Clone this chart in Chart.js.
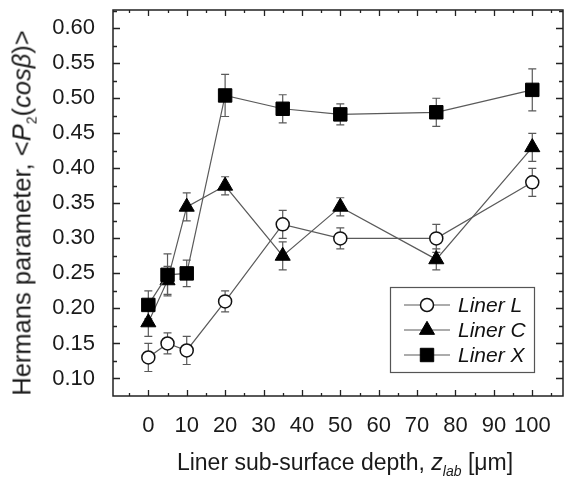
<!DOCTYPE html>
<html lang="en">
<head>
    <meta charset="UTF-8">
    <title>Hermans parameter vs depth</title>
    <script src="https://cdn.jsdelivr.net/npm/chart.js"></script>
    <style>
        body { margin: 0; background: #fff; }
        #wrap { position: relative; width: 564px; height: 478px; }
        #chart { position: absolute; left: 0; top: 0; }
        .title {
            position: absolute;
            font-family: "Liberation Sans", Arial, sans-serif;
            color: #1a1a1a;
            white-space: nowrap;
        }
        #xTitle { font-size: 23px; left: 345px; top: 462px; transform: translate(-50%, -50%); }
        #yTitle { font-size: 25.5px; left: 22px; top: 213px; transform: translate(-50%, -50%) rotate(-90deg); }
        sub { font-size: 14px; vertical-align: -6px; line-height: 0; }
    </style>
</head>
<body>
<div id="wrap">
    <canvas id="chart" width="564" height="478"></canvas>
    <div id="xTitle" class="title">Liner sub-surface depth, <i>z</i><sub><i>lab</i></sub> [&mu;m]</div>
    <div id="yTitle" class="title">Hermans parameter, &lt;<i>P</i><sub>2</sub>(<i>cos&beta;</i>)&gt;</div>
</div>
<script>
    // depth positions (um)
    var depths = [0, 5, 10, 20, 35, 50, 75, 100];

    var linerL = [0.13, 0.15, 0.14, 0.21, 0.32, 0.30, 0.30, 0.38];
    var linerLErr = [0.02, 0.015, 0.02, 0.015, 0.02, 0.015, 0.02, 0.02];

    var linerC = [0.18, 0.24, 0.345, 0.375, 0.275, 0.345, 0.27, 0.43];
    var linerCErr = [0.02, 0.02, 0.02, 0.013, 0.02, 0.013, 0.015, 0.02];

    var linerX = [0.205, 0.248, 0.25, 0.504, 0.485, 0.477, 0.48, 0.512];
    var linerXErr = [0.02, 0.03, 0.019, 0.03, 0.02, 0.015, 0.02, 0.03];

    var xTicks = [0, 10, 20, 30, 40, 50, 60, 70, 80, 90, 100];
    var yTicks = [0.10, 0.15, 0.20, 0.25, 0.30, 0.35, 0.40, 0.45, 0.50, 0.55, 0.60];

    var font = '"Liberation Sans", Arial, sans-serif';
    var lineGray = "#5a5a5a";

    function points(vals) {
        return depths.map((d, i) => ({x: d, y: vals[i]}));
    }

    function noPad(s) {
        s.paddingTop = 0; s.paddingBottom = 0;
        s.paddingLeft = 0; s.paddingRight = 0;
    }

    // error bars behind the markers
    var errorBars = {
        id: "errorBars",
        beforeDatasetsDraw(chart) {
            var ctx = chart.ctx, xs = chart.scales.x, ys = chart.scales.y;
            ctx.save();
            ctx.strokeStyle = lineGray;
            ctx.lineWidth = 1.2;
            chart.data.datasets.forEach(ds => {
                ds.data.forEach((p, j) => {
                    var e = ds.errors[j];
                    var px = xs.getPixelForValue(p.x);
                    var top = ys.getPixelForValue(p.y + e);
                    var bot = ys.getPixelForValue(p.y - e);
                    ctx.beginPath();
                    ctx.moveTo(px, top); ctx.lineTo(px, bot);
                    ctx.moveTo(px - 4, top); ctx.lineTo(px + 4, top);
                    ctx.moveTo(px - 4, bot); ctx.lineTo(px + 4, bot);
                    ctx.stroke();
                });
            });
            ctx.restore();
        }
    };

    // box frame with inward ticks on all four sides
    var frame = {
        id: "frame",
        afterDatasetsDraw(chart) {
            var ctx = chart.ctx, a = chart.chartArea;
            var xs = chart.scales.x, ys = chart.scales.y;
            ctx.save();
            ctx.strokeStyle = "#222";
            ctx.lineWidth = 1.5;
            ctx.strokeRect(a.left, a.top, a.right - a.left, a.bottom - a.top);
            ctx.lineWidth = 1.3;
            ctx.beginPath();
            for (var v = -5; v <= 105; v += 5) {
                var px = Math.round(xs.getPixelForValue(v)) + 0.5;
                if (px <= a.left || px >= a.right) continue;
                var len = (v % 10 === 0) ? 6 : 3;
                ctx.moveTo(px, a.bottom); ctx.lineTo(px, a.bottom - len);
                ctx.moveTo(px, a.top); ctx.lineTo(px, a.top + len);
            }
            for (var k = 3; k <= 25; k++) {
                var val = k * 0.025;
                var py = Math.round(ys.getPixelForValue(val)) + 0.5;
                if (py <= a.top || py >= a.bottom) continue;
                var l2 = (k % 2 === 0) ? 7 : 4;
                ctx.moveTo(a.left, py); ctx.lineTo(a.left + l2, py);
                ctx.moveTo(a.right, py); ctx.lineTo(a.right - l2, py);
            }
            ctx.stroke();
            ctx.restore();
        }
    };

    // legend box inside the plot
    var boxLegend = {
        id: "boxLegend",
        afterDraw(chart) {
            var ctx = chart.ctx;
            ctx.save();
            ctx.fillStyle = "#fff";
            ctx.fillRect(390, 287, 144, 85);
            ctx.strokeStyle = "#555";
            ctx.lineWidth = 1.2;
            ctx.strokeRect(390.5, 287.5, 144, 85);
            chart.data.datasets.forEach((ds, row) => {
                var y = 305 + row * 25;
                ctx.strokeStyle = lineGray;
                ctx.lineWidth = 1.2;
                ctx.beginPath();
                ctx.moveTo(404, y); ctx.lineTo(450, y);
                ctx.stroke();
                ctx.fillStyle = ds.pointBackgroundColor;
                ctx.strokeStyle = ds.pointBorderColor;
                ctx.lineWidth = ds.pointBorderWidth;
                Chart.helpers.drawPoint(ctx, {
                    pointStyle: ds.pointStyle,
                    radius: ds.pointRadius,
                    rotation: 0,
                    borderWidth: ds.pointBorderWidth
                }, 427, y);
                ctx.fillStyle = "#111";
                ctx.font = "italic 21px " + font;
                ctx.textBaseline = "middle";
                ctx.fillText(ds.label, 458, y + 1);
            });
            ctx.restore();
        }
    };

    var chart = new Chart(document.getElementById("chart"), {
        type: "line",
        data: {
            datasets: [
                {
                    label: "Liner L",
                    data: points(linerL),
                    errors: linerLErr,
                    borderColor: lineGray,
                    borderWidth: 1.2,
                    pointStyle: "circle",
                    pointRadius: 6.5,
                    pointBackgroundColor: "#fff",
                    pointBorderColor: "#111",
                    pointBorderWidth: 1.5,
                    order: 2
                },
                {
                    label: "Liner C",
                    data: points(linerC),
                    errors: linerCErr,
                    borderColor: lineGray,
                    borderWidth: 1.2,
                    pointStyle: "triangle",
                    pointRadius: 8.7,
                    pointBackgroundColor: "#000",
                    pointBorderColor: "#000",
                    pointBorderWidth: 1,
                    order: 1
                },
                {
                    label: "Liner X",
                    data: points(linerX),
                    errors: linerXErr,
                    borderColor: lineGray,
                    borderWidth: 1.2,
                    pointStyle: "rect",
                    pointRadius: 9.5,
                    pointBackgroundColor: "#000",
                    pointBorderColor: "#000",
                    pointBorderWidth: 1,
                    order: 0
                }
            ]
        },
        options: {
            responsive: false,
            animation: false,
            layout: {autoPadding: false, padding: {top: 10, right: 1, left: 0, bottom: 0}},
            plugins: {legend: {display: false}, tooltip: {enabled: false}},
            scales: {
                x: {
                    type: "linear",
                    min: -9.2,
                    max: 108,
                    afterBuildTicks: s => { s.ticks = xTicks.map(v => ({value: v})); },
                    afterFit: s => { s.height = 82; noPad(s); },
                    grid: {display: false},
                    border: {display: false},
                    ticks: {padding: 9, color: "#1a1a1a", font: {family: font, size: 22}}
                },
                y: {
                    min: 0.075,
                    max: 0.626,
                    afterBuildTicks: s => { s.ticks = yTicks.map(v => ({value: v})); },
                    afterFit: s => { s.width = 113; noPad(s); },
                    grid: {display: false},
                    border: {display: false},
                    ticks: {
                        padding: 10,
                        color: "#1a1a1a",
                        font: {family: font, size: 22},
                        callback: v => v.toFixed(2)
                    }
                }
            }
        },
        plugins: [errorBars, frame, boxLegend]
    });
</script>
</body>
</html>
